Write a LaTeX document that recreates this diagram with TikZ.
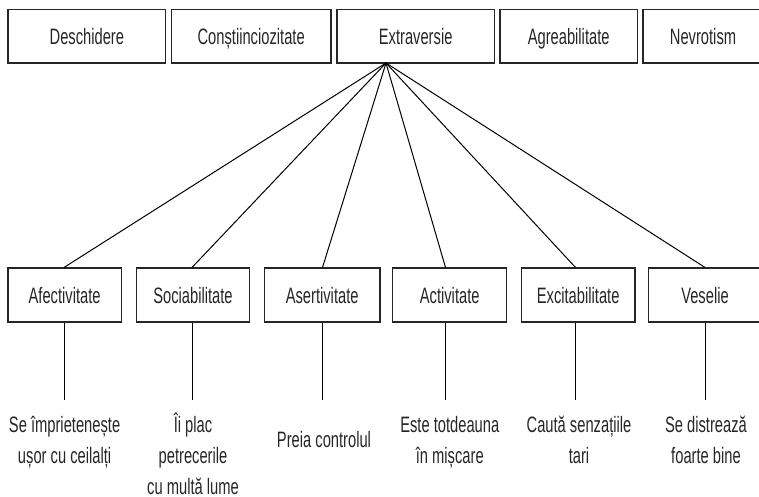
\documentclass[tikz,border=0pt]{standalone}
\usepackage{fontspec}
\setmainfont[FakeStretch=0.66]{Liberation Sans}
\begin{document}
\begin{tikzpicture}[x=1pt,y=-1pt,
  every node/.style={font=\fontsize{22.3}{31.2}\selectfont, text=black!85},
  box/.style={draw=black!85, line width=1.1pt, inner sep=0pt,
    text height=16pt, text depth=0pt},
  topbox/.style={box, minimum height=53.5pt, minimum width=#1},
  botbox/.style={box, minimum height=54pt, minimum width=#1},
  lbl/.style={anchor=base, inner sep=0pt},
  conn/.style={draw=black, line width=1pt}]
\useasboundingbox (0,0) rectangle (759,496);
% top row
\node[topbox=157.7pt] (desch) at (86.85,36.25) {Deschidere};
\node[topbox=159.7pt] (const) at (251.15,36.25) {Conștiinciozitate};
\node[topbox=157.3pt] (extra) at (415.65,36.25) {Extraversie};
\node[topbox=137.3pt] (agre) at (568.65,36.25) {Agreabilitate};
\node[topbox=120pt] (nevro) at (703,36.25) {Nevrotism};
\coordinate (hub) at (386,63);
% facets
\node[botbox=113.3pt] (afe) at (64.65,295) {Afectivitate};
\node[botbox=112.7pt] (soc) at (193,295) {Sociabilitate};
\node[botbox=115.7pt] (ase) at (322.15,295) {Asertivitate};
\node[botbox=114pt] (act) at (449.7,295) {Activitate};
\node[botbox=113.7pt] (exc) at (578.15,295) {Excitabilitate};
\node[botbox=112.6pt] (ves) at (705,295) {Veselie};
% line ends
\coordinate (afeE) at (64,400);
\coordinate (socE) at (192,400);
\coordinate (aseE) at (322.5,400);
\coordinate (actE) at (445.5,400);
\coordinate (excE) at (575.5,400);
\coordinate (vesE) at (705,400);
% descriptions
\node[lbl] (afeT) at (64.6,432) {\begin{tabular}[t]{@{}c@{}}Se împrietenește\\ușor cu ceilalți\end{tabular}};
\node[lbl] (socT) at (193,432) {\begin{tabular}[t]{@{}c@{}}Îi plac\\petrecerile\\cu multă lume\end{tabular}};
\node[lbl] (aseT) at (324,447) {Preia controlul};
\node[lbl] (actT) at (449.8,432) {\begin{tabular}[t]{@{}c@{}}Este totdeauna\\în mișcare\end{tabular}};
\node[lbl] (excT) at (579,432) {\begin{tabular}[t]{@{}c@{}}Caută senzațiile\\tari\end{tabular}};
\node[lbl] (vesT) at (706,432) {\begin{tabular}[t]{@{}c@{}}Se distrează\\foarte bine\end{tabular}};
% fan connectors
\foreach \n in {afe,soc,ase,act,exc,ves}{
  \draw[conn] (hub) -- (\n E |- \n.north);
  \draw[conn] (\n E |- \n.south) -- (\n E);
}
\end{tikzpicture}
\end{document}
